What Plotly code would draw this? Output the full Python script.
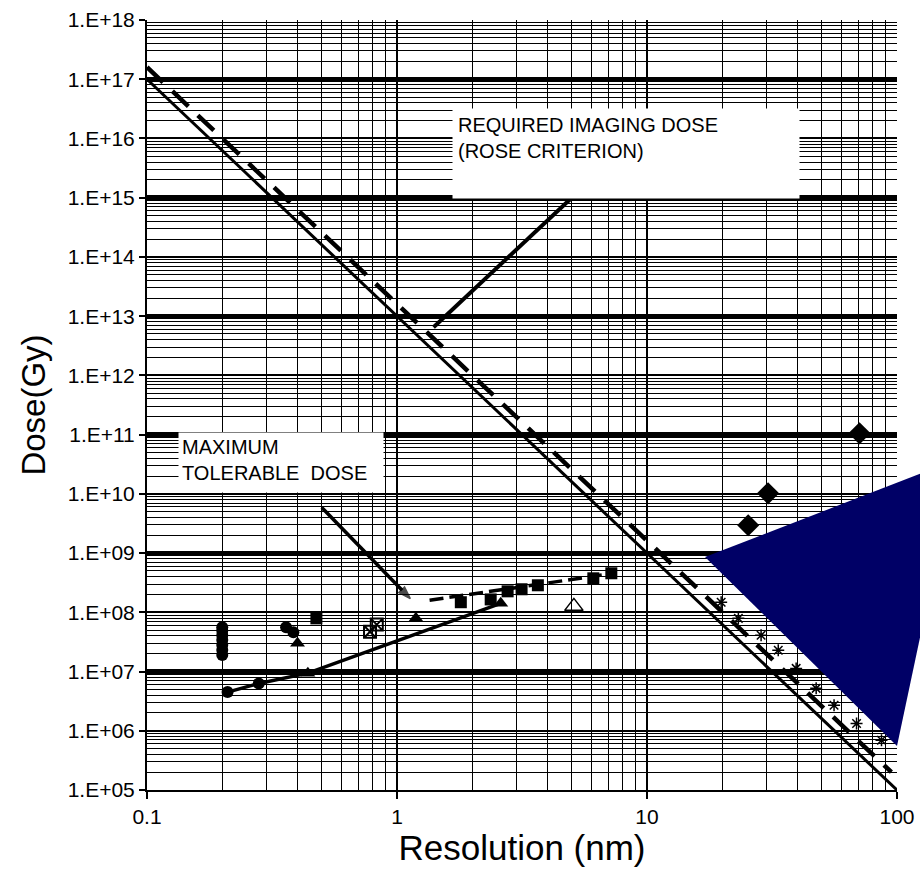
import plotly.graph_objects as go

# ---------------- data ----------------
# Rose-criterion required imaging dose (solid and dashed lines)
rose_solid_x = [0.1, 100]
rose_solid_y = [1.0e17, 1.0e5]
rose_dash_x = [0.1, 95]
rose_dash_y = [1.6e17, 2.0e5]

# pointer lines
rose_ptr_x = [1.4, 5.0]
rose_ptr_y = [6.5e12, 1.0e15]
mtd_ptr_x = [0.5, 1.13]
mtd_ptr_y = [5.9e9, 1.7e8]

# maximum tolerable dose lines
mtd_low_x = [0.21, 0.28, 0.44, 2.6]
mtd_low_y = [4.5e6, 6.3e6, 9.4e6, 1.42e8]
mtd_up_x = [1.35, 7.5]
mtd_up_y = [1.6e8, 4.6e8]

# markers
circ_x = [0.2, 0.2, 0.2, 0.2, 0.2, 0.2, 0.2, 0.21, 0.28, 0.36, 0.385]
circ_y = [1.9e7, 2.3e7, 2.8e7, 3.4e7, 4.1e7, 4.9e7, 5.6e7, 4.5e6, 6.3e6, 5.6e7, 4.6e7]
tri_x = [0.40, 0.44, 1.19, 2.6]
tri_y = [3.0e7, 9.4e6, 7.9e7, 1.42e8]
sq_x = [0.476, 1.80, 2.37, 2.77, 3.15, 3.66, 6.1, 7.2]
sq_y = [7.9e7, 1.48e8, 1.65e8, 2.26e8, 2.45e8, 2.86e8, 3.75e8, 4.56e8]
sqx_x = [0.78, 0.83]
sqx_y = [4.7e7, 6.2e7]
otri_x = [5.1]
otri_y = [1.26e8]
dia_x = [25.4, 30.5, 70.8]
dia_y = [2.95e9, 1.02e10, 1.05e11]
star_x = [19.8, 23.2, 28.6, 33.5, 39.5, 47.5, 56, 68.9, 86.7]
star_y = [1.48e8, 7.9e7, 4.1e7, 2.28e7, 1.13e7, 5.2e6, 2.7e6, 1.33e6, 6.9e5]

x_ticks = [0.1, 1, 10, 100]
x_ticktext = ["0.1", "1", "10", "100"]
y_ticks = [10.0 ** k for k in range(5, 19)]
y_ticktext = ["1.E+%02d" % k for k in range(5, 19)]
y_odd = [10.0 ** k for k in range(5, 19) if k % 2 == 1]

x_minor = [m * 10.0 ** k for k in range(-1, 2) for m in range(2, 10)]
y_minor = [m * 10.0 ** k for k in range(5, 18) for m in range(2, 10)]

# ---------------- layout geometry ----------------
W, H = 920, 888
L, R, T, B = 147, 23, 20, 98
PW, PH = W - L - R, H - T - B


def px(xp):
    return (xp - L) / PW


def py(yp):
    return (H - B - yp) / PH


FONT = "Liberation Sans, Arial, sans-serif"

fig = go.Figure()

fig.add_trace(go.Scatter(x=[1], y=[1e10], yaxis="y2", mode="markers",
                         marker=dict(opacity=0), hoverinfo="skip", showlegend=False))

line_traces = [
    (rose_solid_x, rose_solid_y, 3, "solid"),
    (rose_dash_x, rose_dash_y, 4.5, "22px,13px"),
    (rose_ptr_x, rose_ptr_y, 4, "solid"),
    (mtd_low_x, mtd_low_y, 3.5, "solid"),
    (mtd_up_x, mtd_up_y, 3.5, "14px,6px"),
]
for xs, ys, w, d in line_traces:
    fig.add_trace(go.Scatter(x=xs, y=ys, mode="lines",
                             line=dict(color="black", width=w, dash=d),
                             showlegend=False, hoverinfo="skip"))

fig.add_trace(go.Scatter(x=mtd_ptr_x, y=mtd_ptr_y, mode="lines+markers",
                         line=dict(color="black", width=3.5),
                         marker=dict(symbol="arrow", angleref="previous",
                                     size=[0, 13], color="black",
                                     line=dict(color="black", width=1.5)),
                         showlegend=False, hoverinfo="skip"))

marker_sets = [
    (circ_x, circ_y, "circle", 12, "black", 0),
    (tri_x, tri_y, "triangle-up", 13, "black", 0),
    (sq_x, sq_y, "square", 12, "black", 0),
    (sqx_x, sqx_y, "square-x-open", 12, "black", 2),
    (otri_x, otri_y, "triangle-up-open", 16, "black", 1.5),
    (dia_x, dia_y, "diamond", 17, "black", 0),
    (star_x, star_y, "asterisk-open", 10, "black", 1.5),
]
for xs, ys, sym, sz, col, lw in marker_sets:
    fig.add_trace(go.Scatter(x=xs, y=ys, mode="markers",
                             marker=dict(symbol=sym, size=sz, color=col,
                                         line=dict(color="black", width=lw)),
                             showlegend=False, hoverinfo="skip"))

fig.update_layout(
    width=W, height=H,
    margin=dict(l=L, r=R, t=T, b=B, autoexpand=False),
    paper_bgcolor="white", plot_bgcolor="white",
    font=dict(family=FONT, color="black"),
    xaxis=dict(type="log", range=[-1, 2], tickvals=x_ticks, ticktext=x_ticktext,
               ticks="outside", ticklen=7, tickwidth=1.5, tickcolor="black",
               showline=True, linecolor="black", linewidth=2,
               showgrid=True, gridcolor="black", gridwidth=2,
               minor=dict(tickvals=x_minor, showgrid=True, gridcolor="black",
                          gridwidth=1.4, ticks=""),
               zeroline=False, tickfont=dict(size=21, family=FONT),
               title=dict(text="Resolution (nm)", font=dict(size=35, family=FONT),
                          standoff=5)),
    yaxis=dict(type="log", range=[5, 18], tickvals=y_ticks, ticktext=y_ticktext,
               ticks="outside", ticklen=6, tickwidth=1.5, tickcolor="black",
               showline=True, linecolor="black", linewidth=2,
               showgrid=True, gridcolor="black", gridwidth=2,
               minor=dict(tickvals=y_minor, showgrid=True, gridcolor="black",
                          gridwidth=1.4, ticks=""),
               zeroline=False, tickfont=dict(size=21, family=FONT),
               title=dict(text="Dose(Gy)", font=dict(size=33, family=FONT),
                          standoff=12)),
    yaxis2=dict(type="log", range=[5, 18], overlaying="y", tickvals=y_odd,
                showticklabels=False, ticks="", showgrid=True, gridcolor="black",
                gridwidth=5, showline=False, zeroline=False),
    shapes=[dict(type="path", xref="paper", yref="paper", layer="above",
                 path="M %f,%f L %f,%f L %f,%f L %f,%f Z" % (
                     px(705), py(557), px(922), py(473), px(922), py(628),
                     px(897), py(746)),
                 fillcolor="#000066", line=dict(width=0))],
    annotations=[
        dict(text="REQUIRED IMAGING DOSE<br>(ROSE CRITERION)",
             xref="paper", yref="paper", x=px(452), y=py(108),
             xanchor="left", yanchor="top", showarrow=False,
             width=346 - 10, height=89 - 10, borderpad=5,
             align="left", valign="top", bgcolor="white",
             font=dict(size=20, family=FONT, color="black")),
        dict(text="MAXIMUM<br>TOLERABLE&nbsp;&nbsp;DOSE",
             xref="paper", yref="paper", x=px(178), y=py(432),
             xanchor="left", yanchor="top", showarrow=False,
             width=204 - 6, height=59 - 6, borderpad=3,
             align="left", valign="top", bgcolor="white",
             font=dict(size=20, family=FONT, color="black")),
    ],
)

fig.write_html("out.html")
